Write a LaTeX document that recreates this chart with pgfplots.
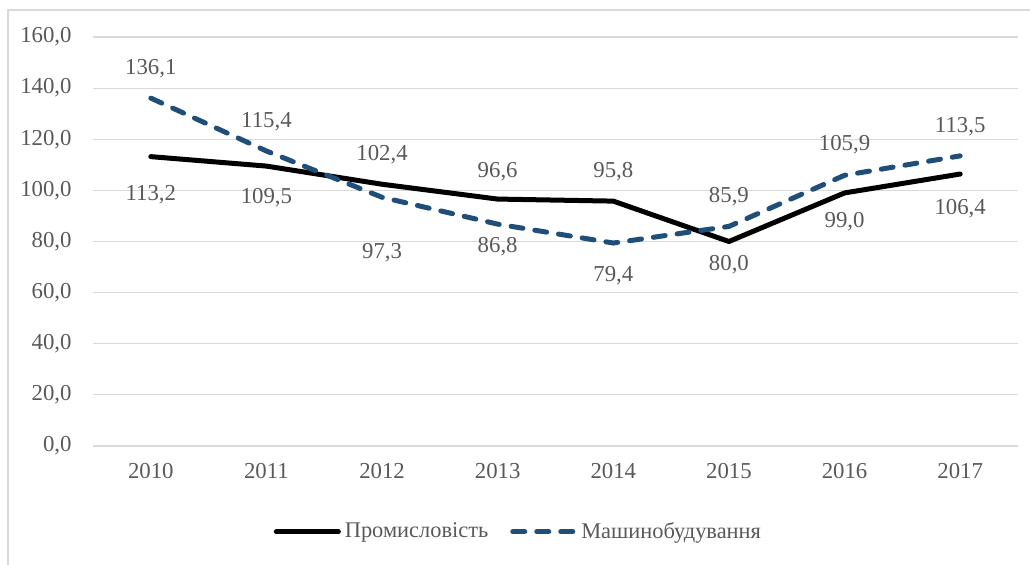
\documentclass[border=0pt]{standalone}
\usepackage{pgfplots}
\pgfplotsset{compat=1.18}
\usepackage{fontspec}
\setmainfont{Liberation Serif}
\definecolor{txtGrey}{HTML}{595959}
\definecolor{gridGrey}{HTML}{D9D9D9}
\definecolor{frameGrey}{HTML}{D9D9D9}
\definecolor{mashBlue}{HTML}{1F4E79}

\begin{document}
\begin{tikzpicture}[font=\fontsize{11.4}{13}\selectfont]
% page = 1030x564 px at 0.5pt per px, axis box lower-left at px (93,446)
\path[use as bounding box] (-46.5pt,-59pt) rectangle (468.5pt,223pt);
\draw[frameGrey, line width=0.6pt] (-42.5pt,-80pt) -- (-42.5pt,218pt) -- (540pt,218pt);

\begin{axis}[
    scale only axis,
    width=462.5pt, height=204.5pt,
    xmin=-0.5, xmax=7.5,
    ymin=0, ymax=160,
    axis line style={draw=none},
    xtick={0,...,7},
    xticklabels={2010,2011,2012,2013,2014,2015,2016,2017},
    ytick={0,20,...,160},
    yticklabels={{0,0},{20,0},{40,0},{60,0},{80,0},{100,0},{120,0},{140,0},{160,0}},
    major tick length=0pt,
    tick style={draw=none},
    ymajorgrids=true,
    grid style={gridGrey, line width=0.6pt},
    tick label style={text=txtGrey},
    yticklabel style={anchor=east, inner sep=0pt, xshift=-10.5pt},
    xticklabel style={anchor=north, inner sep=0pt, yshift=-8.5pt},
    legend style={
        at={(0.461,-0.21)}, anchor=center,
        draw=none, fill=none,
        text=txtGrey,
        font=\fontsize{11.2}{13}\selectfont,
        legend columns=2,
        /tikz/every even column/.append style={column sep=9pt},
        nodes={inner sep=2pt},
    },
    legend image code/.code={\draw[#1] (0pt,0pt) -- (31pt,0pt);},
    clip=false,
]

\addplot[black, line width=2.5pt, line join=round, line cap=round]
    coordinates {(0,113.2) (1,109.5) (2,102.4) (3,96.6) (4,95.8) (5,80.0) (6,99.0) (7,106.4)};
\addlegendentry{Промисловість}

\addplot[mashBlue, line width=2.5pt, line join=round, line cap=round,
         dash pattern=on 6pt off 6pt]
    coordinates {(0,136.1) (1,115.4) (2,97.3) (3,86.8) (4,79.4) (5,85.9) (6,105.9) (7,113.5)};
\addlegendentry{Машинобудування}

% data labels, placed where the reference puts them
\addplot[draw=none, forget plot, nodes near coords, point meta=explicit symbolic,
         nodes near coords style={anchor=center, text=txtGrey, inner sep=0pt}]
    coordinates {
      (0,147.5) [136,1] (0,98.2) [113,2]
      (1,126.8) [115,4] (1,97.0) [109,5]
      (2,113.8) [102,4] (2,75.5) [97,3]
      (3,107.3) [96,6]  (3,77.9) [86,8]
      (4,107.3) [95,8]  (4,66.6) [79,4]
      (5,97.5)  [85,9]  (5,70.8) [80,0]
      (6,117.8) [105,9] (6,87.8) [99,0]
      (7,124.9) [113,5] (7,93.0) [106,4]
    };

\end{axis}
\end{tikzpicture}
\end{document}
